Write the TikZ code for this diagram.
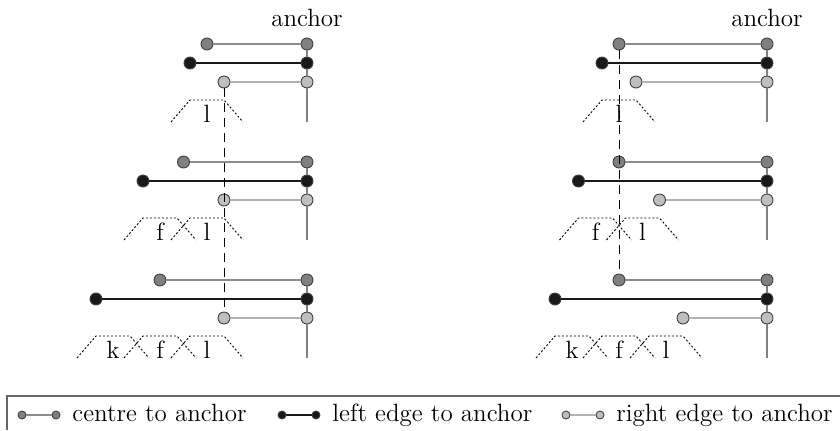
\documentclass[tikz,border=0pt]{standalone}
\usepackage{tikz}
\usetikzlibrary{positioning}
\usetikzlibrary{calc}

\begin{document}
\begin{tikzpicture}[x=0.5pt, y=-0.5pt, font={\fontsize{12.5}{15}\selectfont},
  dot/.style={circle, draw=black!75, line width=0.45pt, inner sep=0pt, minimum size=6pt},
  cdot/.style={dot, fill=black!50},
  ldot/.style={dot, fill=black!90},
  rdot/.style={dot, fill=black!25},
  cline/.style={draw=black!45, line width=0.55pt},
  lline/.style={draw=black!90, line width=0.6pt},
  rline/.style={draw=black!30, line width=0.55pt},
  aline/.style={draw=black!50, line width=0.65pt},
  glyph/.style={dash pattern=on 1pt off 1pt, line width=0.45pt},
  guide/.style={dash pattern=on 4.5pt off 3pt, line width=0.45pt}]

\useasboundingbox (0,0) rectangle (840,430);

 % rows: A keeps the right edge, B keeps the centre
 \foreach \p/\ax/\lo/\ls/\ro/\rs in {A/307/190/47/224/0, B/767/602/23.5/636/23.5} {
   \foreach \g in {0,1,2} {
     \pgfmathsetmacro{\yc}{44+118*\g}
     \pgfmathsetmacro{\xl}{\lo-\ls*\g}
     \pgfmathsetmacro{\xr}{\ro+\rs*\g}
     \node[cdot] (\p c\g) at ({(\xl+\xr)/2}, \yc) {};
     \node[ldot] (\p l\g) at (\xl, \yc+19) {};
     \node[rdot] (\p r\g) at (\xr, \yc+38) {};
     \node[cdot] (\p ac\g) at (\ax, \yc) {};
     \node[ldot] (\p al\g) at (\ax, \yc+19) {};
     \node[rdot] (\p ar\g) at (\ax, \yc+38) {};
     \coordinate (\p e\g) at (\ax, \yc+78);
     \draw[aline] (\p ac\g) -- (\p al\g) -- (\p ar\g) -- (\p e\g);
     \draw[cline] (\p c\g) -- (\p ac\g);
     \draw[lline] (\p l\g) -- (\p al\g);
     \draw[rline] (\p r\g) -- (\p ar\g);
   }
 }

 % glyphs
 \foreach \p/\lo/\ls in {A/190/47, B/602/23.5}
   \foreach \g/\i/\t in {0/0/l, 1/0/f, 1/1/l, 2/0/k, 2/1/f, 2/2/l} {
     \pgfmathsetmacro{\xg}{\lo-\ls*\g+17+47*\i}
     \pgfmathsetmacro{\yb}{44+118*\g+78}
     \draw[glyph] (\xg-36, \yb) -- (\xg-17, \yb-22) -- (\xg+17, \yb-22) -- (\xg+36, \yb);
     \node[anchor=base, inner sep=0pt] (\p\t\g) at (\xg, \yb) {\t};
 }

 % guides
 \draw[guide] (Ar0) -- (Ar2);
 \draw[guide] (Bc0) -- (Bc2);

 \node[above=2pt of Aac0] (Aanc) {anchor};
 \node[above=2pt of Bac0] (Banc) {anchor};

 % legend
 \draw[black!60, line width=0.6pt] (840,396) -| (7,430);
 \foreach \d/\l/\x/\txt [count=\n] in {cdot/cline/22/centre to anchor, ldot/lline/282/left edge to anchor, rdot/rline/566/right edge to anchor} {
   \node[\d, minimum size=4pt] (k\n a) at (\x,415) {};
   \node[\d, minimum size=4pt] (k\n b) at (\x+34,415) {};
   \draw[\l] (k\n a) -- (k\n b);
   \node[anchor=base west, inner sep=0pt] (t\n) at (\x+50,421) {\txt};
 }

\end{tikzpicture}
\end{document}
